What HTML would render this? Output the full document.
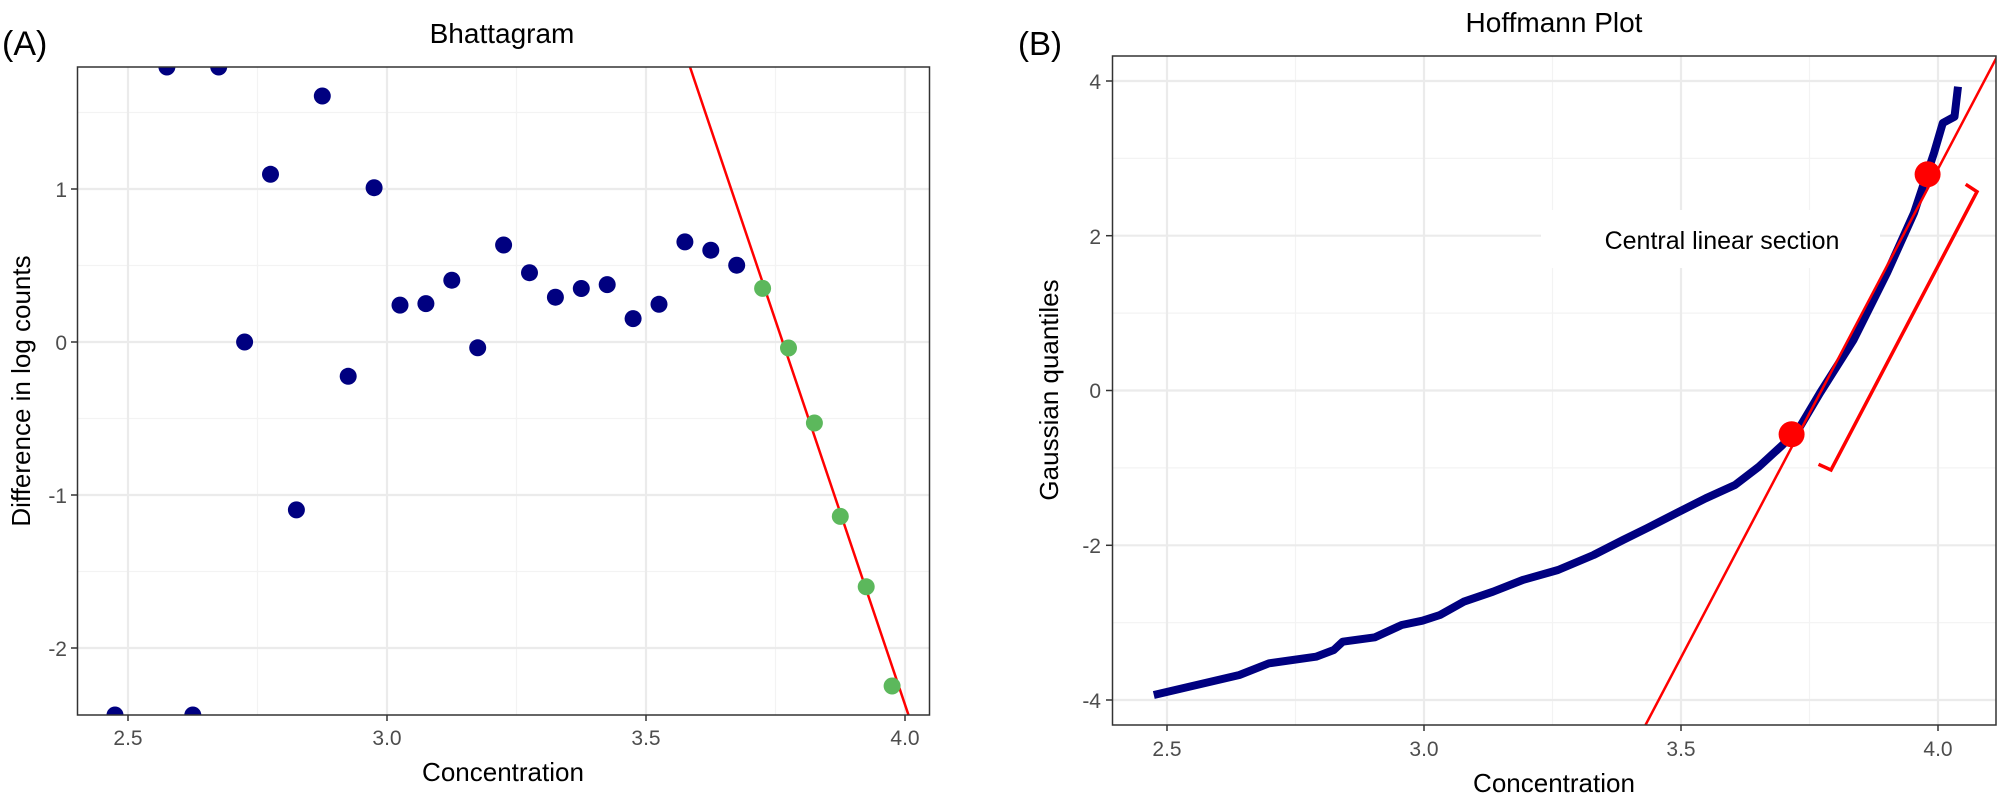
<!DOCTYPE html>
<html><head><meta charset="utf-8"><style>
html,body{margin:0;padding:0;background:#fff}
svg{display:block}
text{font-family:"Liberation Sans",Arial,sans-serif}
</style></head><body>
<svg width="2001" height="800" viewBox="0 0 2001 800" xmlns="http://www.w3.org/2000/svg">
<defs>
<clipPath id="ca"><rect x="77.5" y="67" width="852" height="648"/></clipPath>
<clipPath id="cb"><rect x="1112.5" y="56" width="883.5" height="669"/></clipPath>
</defs>
<!-- Panel A -->
<text x="2" y="55" font-size="34" fill="#000">(A)</text>
<text x="502" y="43" font-size="28" text-anchor="middle" fill="#000">Bhattagram</text>
<g stroke="#f3f3f3" stroke-width="1.2">
<line x1="77.5" x2="929.5" y1="112.5" y2="112.5"/><line x1="77.5" x2="929.5" y1="265.5" y2="265.5"/>
<line x1="77.5" x2="929.5" y1="418.5" y2="418.5"/><line x1="77.5" x2="929.5" y1="571.5" y2="571.5"/>
<line y1="67" y2="715" x1="257.5" x2="257.5"/><line y1="67" y2="715" x1="516.5" x2="516.5"/><line y1="67" y2="715" x1="775.5" x2="775.5"/>
</g>
<g stroke="#ebebeb" stroke-width="2.2">
<line x1="77.5" x2="929.5" y1="189" y2="189"/><line x1="77.5" x2="929.5" y1="342" y2="342"/>
<line x1="77.5" x2="929.5" y1="495" y2="495"/><line x1="77.5" x2="929.5" y1="648" y2="648"/>
<line y1="67" y2="715" x1="128" x2="128"/><line y1="67" y2="715" x1="387" x2="387"/>
<line y1="67" y2="715" x1="646" x2="646"/><line y1="67" y2="715" x1="905" x2="905"/>
</g>
<g clip-path="url(#ca)">
<line x1="690" y1="67" x2="908.5" y2="715" stroke="#ff0000" stroke-width="2.5"/>
<g fill="#000080">
<circle cx="115" cy="715" r="8.5"/><circle cx="166.9" cy="67" r="8.5"/><circle cx="192.8" cy="715" r="8.5"/>
<circle cx="218.7" cy="67" r="8.5"/><circle cx="244.6" cy="342" r="8.5"/><circle cx="270.5" cy="174.3" r="8.5"/>
<circle cx="296.4" cy="509.9" r="8.5"/><circle cx="322.3" cy="96" r="8.5"/><circle cx="348.2" cy="376.3" r="8.5"/>
<circle cx="374.1" cy="187.7" r="8.5"/><circle cx="400" cy="305.1" r="8.5"/><circle cx="425.9" cy="303.6" r="8.5"/>
<circle cx="451.8" cy="280.2" r="8.5"/><circle cx="477.7" cy="347.8" r="8.5"/><circle cx="503.6" cy="245" r="8.5"/>
<circle cx="529.5" cy="272.7" r="8.5"/><circle cx="555.4" cy="297.2" r="8.5"/><circle cx="581.3" cy="288.5" r="8.5"/>
<circle cx="607.2" cy="284.6" r="8.5"/><circle cx="633.1" cy="318.6" r="8.5"/><circle cx="659" cy="304.3" r="8.5"/>
<circle cx="684.9" cy="241.9" r="8.5"/><circle cx="710.8" cy="250.2" r="8.5"/><circle cx="736.7" cy="265.2" r="8.5"/>
</g>
<g fill="#5cb85c">
<circle cx="762.6" cy="288.4" r="8.5"/><circle cx="788.5" cy="348" r="8.5"/><circle cx="814.4" cy="423" r="8.5"/>
<circle cx="840.3" cy="516.4" r="8.5"/><circle cx="866.2" cy="586.8" r="8.5"/><circle cx="892.1" cy="686" r="8.5"/>
</g>
</g>
<rect x="77.5" y="67" width="852" height="648" fill="none" stroke="#333" stroke-width="1.5"/>
<g stroke="#333" stroke-width="1.5">
<line x1="71" x2="77.5" y1="189" y2="189"/><line x1="71" x2="77.5" y1="342" y2="342"/>
<line x1="71" x2="77.5" y1="495" y2="495"/><line x1="71" x2="77.5" y1="648" y2="648"/>
<line y1="715" y2="721" x1="128" x2="128"/><line y1="715" y2="721" x1="387" x2="387"/>
<line y1="715" y2="721" x1="646" x2="646"/><line y1="715" y2="721" x1="905" x2="905"/>
</g>
<g font-size="21" fill="#4d4d4d" text-anchor="end">
<text x="67" y="197">1</text><text x="67" y="350">0</text><text x="67" y="503">-1</text><text x="67" y="656">-2</text>
</g>
<g font-size="21" fill="#4d4d4d" text-anchor="middle">
<text x="128" y="745">2.5</text><text x="387" y="745">3.0</text><text x="646" y="745">3.5</text><text x="905" y="745">4.0</text>
</g>
<text x="503" y="781" font-size="26" text-anchor="middle" fill="#000">Concentration</text>
<text transform="translate(30,391) rotate(-90)" font-size="26" text-anchor="middle" fill="#000">Difference in log counts</text>

<!-- Panel B -->
<text x="1018" y="55" font-size="33" fill="#000">(B)</text>
<text x="1554" y="32" font-size="28" text-anchor="middle" fill="#000">Hoffmann Plot</text>
<g stroke="#f3f3f3" stroke-width="1.2">
<line x1="1112.5" x2="1996" y1="158.4" y2="158.4"/><line x1="1112.5" x2="1996" y1="313.1" y2="313.1"/>
<line x1="1112.5" x2="1996" y1="467.9" y2="467.9"/><line x1="1112.5" x2="1996" y1="622.7" y2="622.7"/>
<line y1="56" y2="725" x1="1295.5" x2="1295.5"/><line y1="56" y2="725" x1="1552.5" x2="1552.5"/><line y1="56" y2="725" x1="1809.5" x2="1809.5"/>
</g>
<g stroke="#ebebeb" stroke-width="2.2">
<line x1="1112.5" x2="1996" y1="81" y2="81"/><line x1="1112.5" x2="1996" y1="235.7" y2="235.7"/>
<line x1="1112.5" x2="1996" y1="390.5" y2="390.5"/><line x1="1112.5" x2="1996" y1="545.3" y2="545.3"/>
<line x1="1112.5" x2="1996" y1="700" y2="700"/>
<line y1="56" y2="725" x1="1167" x2="1167"/><line y1="56" y2="725" x1="1424" x2="1424"/>
<line y1="56" y2="725" x1="1681" x2="1681"/><line y1="56" y2="725" x1="1938" x2="1938"/>
</g>
<rect x="1541" y="210" width="339" height="58" fill="#fff"/>
<g clip-path="url(#cb)">
<polyline fill="none" stroke="#000080" stroke-width="8" stroke-linejoin="round" points="1153.8,695 1239.4,675 1269,663.3 1316,656.7 1333.8,650 1342.7,641.7 1375,637.3 1401.7,625 1422.4,620.7 1440,615 1463.7,601.7 1493,591.7 1522.7,580 1558,570 1593.6,555 1623,540 1646.7,528.3 1676,513.3 1705.7,498.3 1735,485 1758.9,466.7 1782.5,445 1800,426.7 1820,393 1853.5,340 1887,273 1914,213 1934,153 1942.8,123 1954.5,116.7 1958,86.7"/>
<line x1="1645.5" y1="725" x2="1997.6" y2="55.7" stroke="#ff0000" stroke-width="2.5"/>
<circle cx="1927.6" cy="174.3" r="13" fill="#ff0000"/>
<circle cx="1791.6" cy="434.3" r="13" fill="#ff0000"/>
<polyline fill="none" stroke="#ff0000" stroke-width="3.5" points="1965.7,184.3 1977,191.7 1831,470 1818.5,464.3"/>
</g>
<text x="1722" y="249" font-size="25" text-anchor="middle" fill="#000">Central linear section</text>
<rect x="1112.5" y="56" width="883.5" height="669" fill="none" stroke="#333" stroke-width="1.5"/>
<g stroke="#333" stroke-width="1.5">
<line x1="1106" x2="1112.5" y1="81" y2="81"/><line x1="1106" x2="1112.5" y1="235.7" y2="235.7"/>
<line x1="1106" x2="1112.5" y1="390.5" y2="390.5"/><line x1="1106" x2="1112.5" y1="545.3" y2="545.3"/>
<line x1="1106" x2="1112.5" y1="700" y2="700"/>
<line y1="725" y2="731" x1="1167" x2="1167"/><line y1="725" y2="731" x1="1424" x2="1424"/>
<line y1="725" y2="731" x1="1681" x2="1681"/><line y1="725" y2="731" x1="1938" x2="1938"/>
</g>
<g font-size="21" fill="#4d4d4d" text-anchor="end">
<text x="1101" y="89">4</text><text x="1101" y="244">2</text><text x="1101" y="398">0</text><text x="1101" y="553">-2</text><text x="1101" y="708">-4</text>
</g>
<g font-size="21" fill="#4d4d4d" text-anchor="middle">
<text x="1167" y="756">2.5</text><text x="1424" y="756">3.0</text><text x="1681" y="756">3.5</text><text x="1938" y="756">4.0</text>
</g>
<text x="1554" y="792" font-size="26" text-anchor="middle" fill="#000">Concentration</text>
<text transform="translate(1058,390) rotate(-90)" font-size="26" text-anchor="middle" fill="#000">Gaussian quantiles</text>
</svg>
</body></html>
